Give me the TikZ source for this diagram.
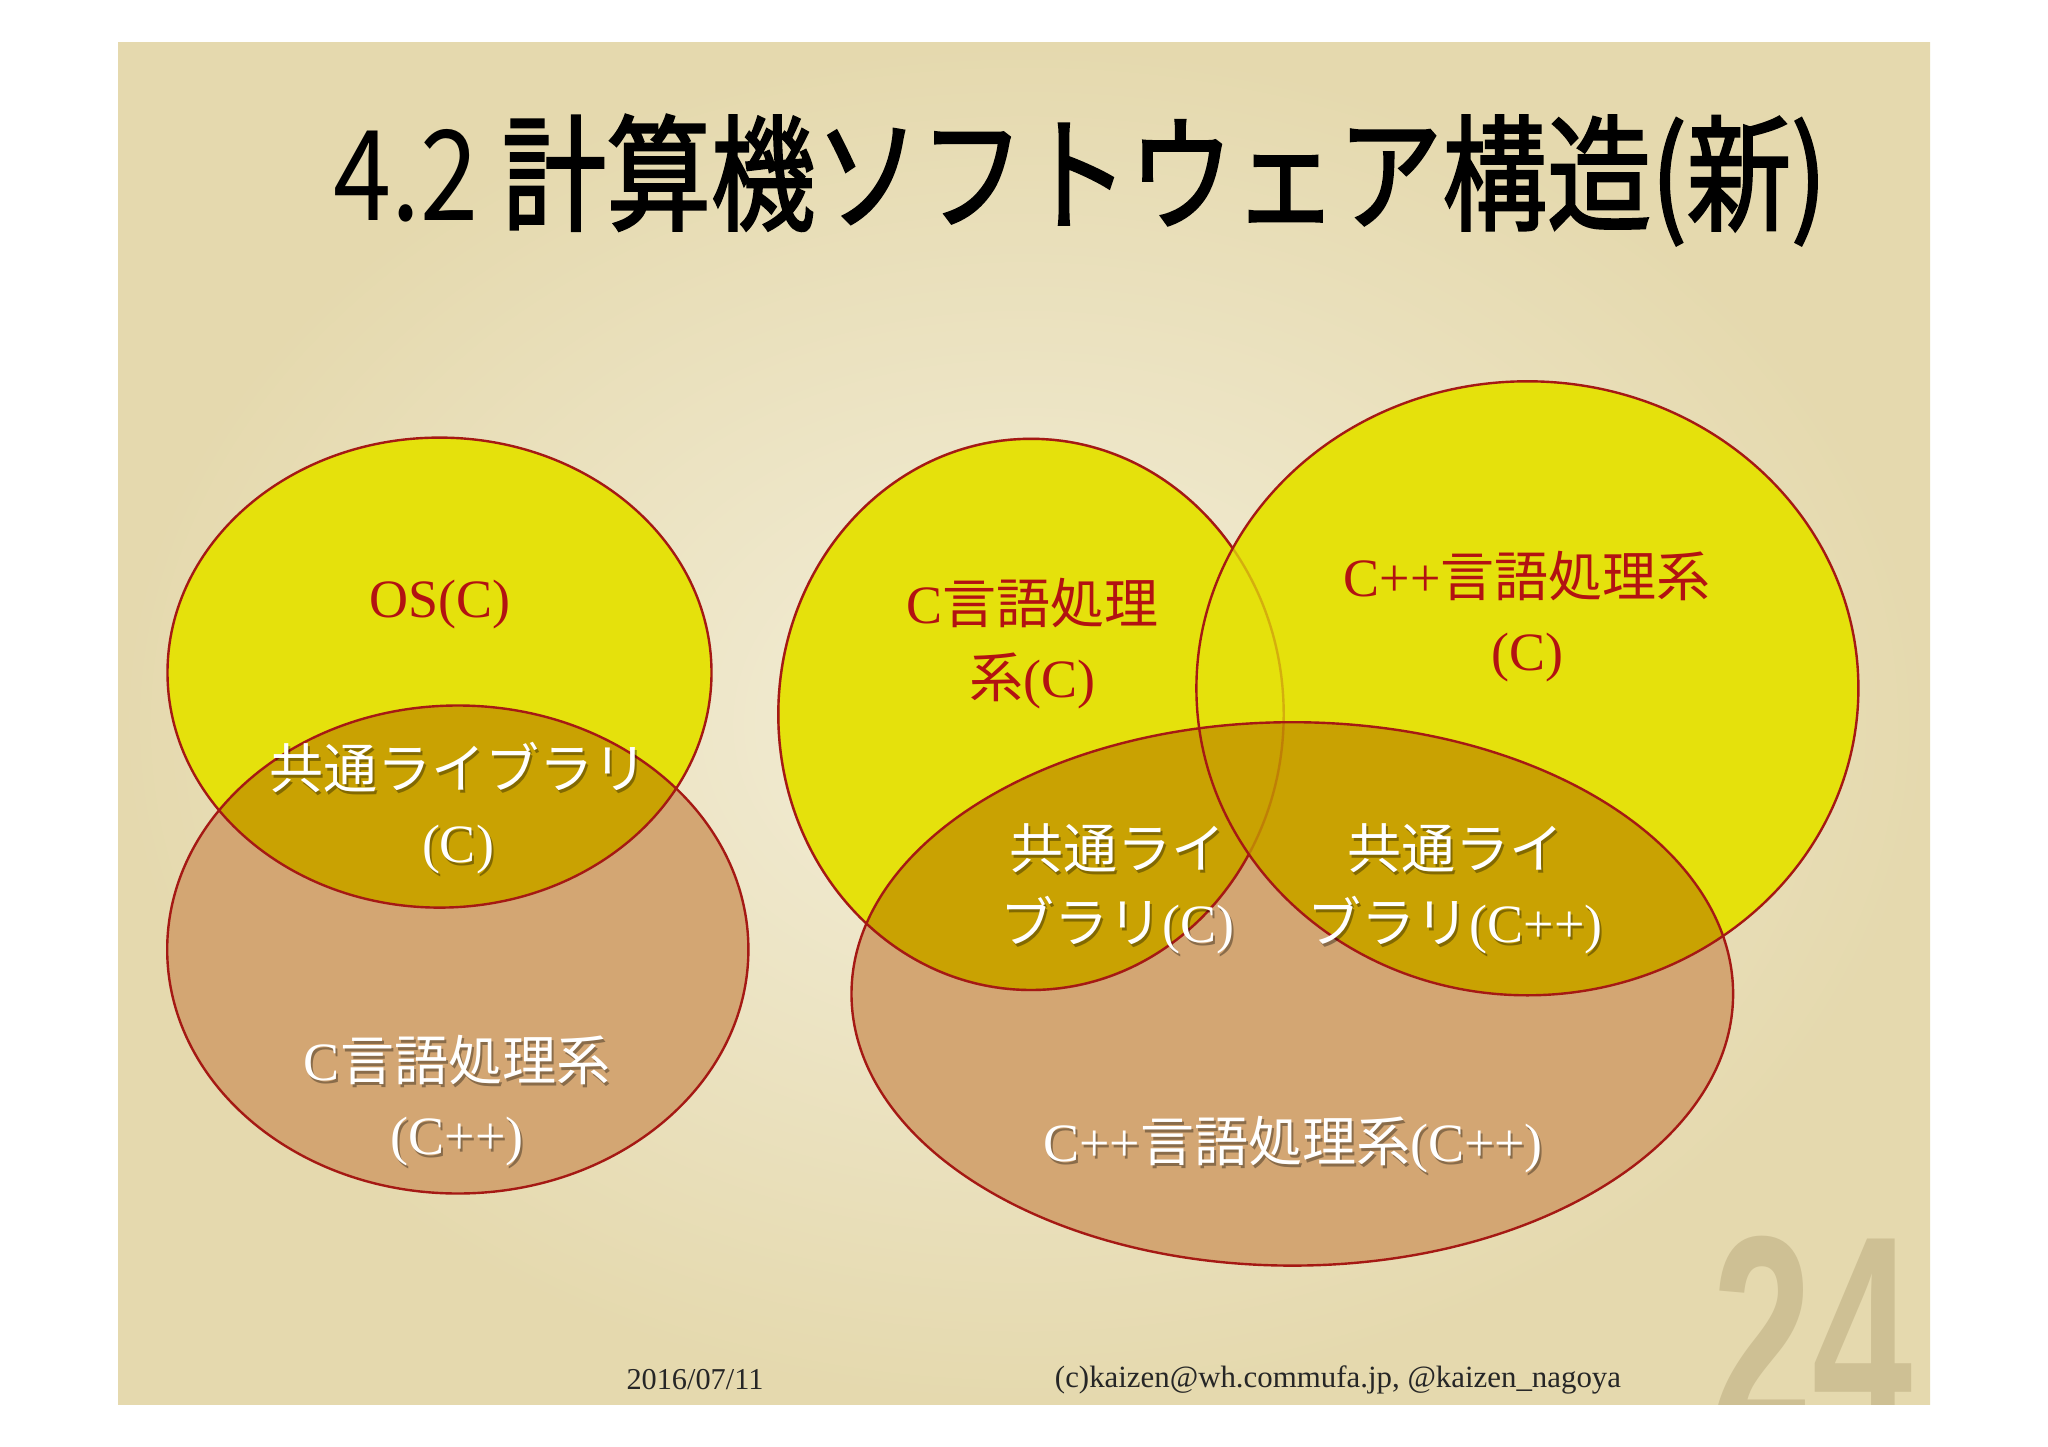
\documentclass[tikz,border=0pt]{standalone}
\usepackage{fontspec}
\setmainfont{Liberation Serif}
\newfontfamily\cjk{Noto Sans CJK JP}
\newfontfamily\cjkt{Noto Sans CJK JP}[FakeBold=2]
\newfontfamily\numfont{Liberation Sans}
\usepackage{graphicx}
\definecolor{ylw}{RGB}{229,225,12}
\definecolor{brn}{RGB}{211,166,115}
\definecolor{gld}{RGB}{201,162,2}
\definecolor{edgec}{RGB}{165,25,20}
\definecolor{redtxt}{RGB}{178,18,18}
\definecolor{bgin}{RGB}{243,238,216}
\definecolor{bgout}{RGB}{229,217,174}
\definecolor{numc}{RGB}{206,192,148}
\def\eOS{(439.5,672.6) ellipse [x radius=272pt, y radius=235pt]}
\def\eLB{(457.8,949.5) ellipse [x radius=290.6pt, y radius=244pt]}
\def\eCY{(1031,714.4) ellipse [x radius=252.7pt, y radius=275.6pt]}
\def\ePY{(1527.4,688.3) ellipse [x radius=331pt, y radius=307pt]}
\def\eBB{(1292.3,993.9) ellipse [x radius=440.8pt, y radius=271.7pt]}
\newcommand\wtext[4]{%
  \node[lbl,text=black,opacity=0.35] (#1s) at ([xshift=2pt,yshift=-3pt]#2,#3) {#4};
  \node[lbl,text=white] (#1) at (#2,#3) {#4};}
\begin{document}
\begin{tikzpicture}[x=1pt,y=-1pt,
  outl/.style={draw=edgec,line width=2.4pt},
  lbl/.style={align=center,inner sep=0pt,font=\fontsize{54}{74}\selectfont},
  foot/.style={inner sep=0pt,text=black!85}]
\useasboundingbox (0,0) rectangle (2048,1447);
\fill[white] (0,0) rectangle (2048,1447);
\shade[inner color=bgin,outer color=bgout] (118,43) rectangle (1930,1404);
% page number
\begin{scope}
\clip (118,43) rectangle (1930,1404);
\node[anchor=north west,inner sep=0pt,text=numc] (pg) at (1712,1236)
  {\resizebox{200pt}{195pt}{\numfont\bfseries 24}};
\end{scope}
% title
\node[inner sep=0pt] (title) at (1080,180)
  {\resizebox{1493pt}{106pt}{{\cjk 4.2 }{\cjkt 計算機ソフトウェア構造(新)}}};
% left group
\fill[brn] \eLB;
\fill[ylw] \eOS;
\begin{scope}\clip \eOS; \fill[gld] \eLB; \end{scope}
\draw[outl] \eLB;
\draw[outl] \eOS;
% right group
\fill[brn] \eBB;
\fill[ylw] \eCY;
\fill[ylw] \ePY;
\begin{scope}\clip \eBB; \fill[gld] \eCY; \fill[gld] \ePY; \end{scope}
\draw[outl] \eBB;
\draw[outl] \ePY;
\draw[outl,opacity=0.25] \eCY;
\begin{scope}[even odd rule]
\clip (0,0) rectangle (2048,1447) \ePY;
\draw[outl] \eCY;
\end{scope}
% labels
\node[lbl,text=redtxt] (os) at (440,605) {OS(C)};
\wtext{libl}{458}{808}{{\cjk 共通ライブラリ}\\(C)}
\wtext{cc}{457}{1101}{C{\cjk 言語処理系}\\(C++)}
\node[lbl,text=redtxt] (cy) at (1032,644) {C{\cjk 言語処理}\\{\cjk 系}(C)};
\node[lbl,text=redtxt] (py) at (1527,617) {C++{\cjk 言語処理系}\\(C)};
\wtext{libc}{1117}{889}{{\cjk 共通ライ}\\{\cjk ブラリ}(C)}
\wtext{libp}{1455}{889}{{\cjk 共通ライ}\\{\cjk ブラリ}(C++)}
\wtext{pp}{1293}{1145}{C++{\cjk 言語処理系}(C++)}
% footer
\node[foot] (date) at (695,1380) {\resizebox{137pt}{!}{\fontsize{28}{30}\selectfont 2016/07/11}};
\node[foot] (copy) at (1338,1380) {\resizebox{566pt}{!}{\fontsize{28}{30}\selectfont (c)kaizen@wh.commufa.jp, @kaizen\_nagoya}};
\end{tikzpicture}
\end{document}
